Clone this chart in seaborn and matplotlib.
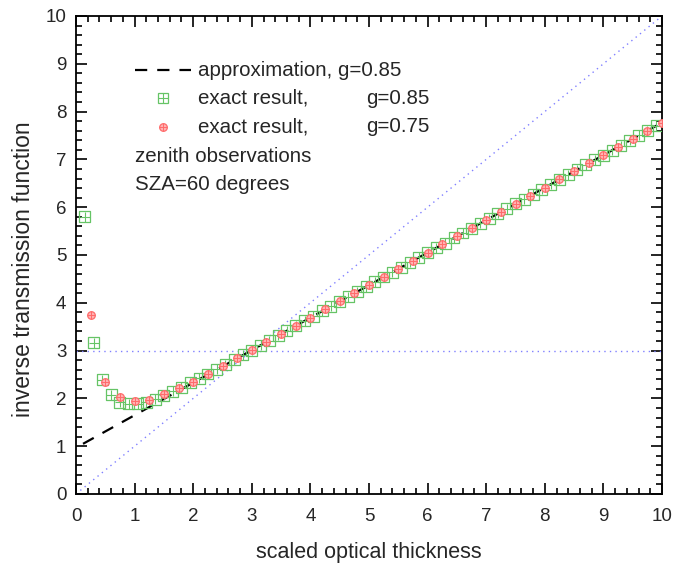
import matplotlib
matplotlib.use("Agg")
import matplotlib.pyplot as plt
import seaborn as sns
import numpy as np
import pandas as pd
from matplotlib.lines import Line2D
from matplotlib.ticker import MultipleLocator

# exact inverse transmission, g = 0.85
tau_g85 = [0.15, 0.30, 0.45, 0.60, 0.75, 0.90, 1.05, 1.20, 1.35, 1.50, 1.65, 1.80,
           1.95, 2.10, 2.25, 2.40, 2.55, 2.70, 2.85, 3.00, 3.15, 3.30, 3.45, 3.60,
           3.75, 3.90, 4.05, 4.20, 4.35, 4.50, 4.65, 4.80, 4.95, 5.10, 5.25, 5.40,
           5.55, 5.70, 5.85, 6.00, 6.15, 6.30, 6.45, 6.60, 6.75, 6.90, 7.05, 7.20,
           7.35, 7.50, 7.65, 7.80, 7.95, 8.10, 8.25, 8.40, 8.55, 8.70, 8.85, 9.00,
           9.15, 9.30, 9.45, 9.60, 9.75, 9.90]
inv_g85 = [5.80, 3.16, 2.39, 2.08, 1.92, 1.89, 1.89, 1.92, 1.98, 2.07, 2.15, 2.23,
           2.33, 2.42, 2.51, 2.61, 2.70, 2.81, 2.91, 3.01, 3.11, 3.21, 3.32, 3.42,
           3.52, 3.62, 3.72, 3.83, 3.93, 4.03, 4.13, 4.23, 4.34, 4.44, 4.54, 4.64,
           4.74, 4.85, 4.95, 5.05, 5.15, 5.25, 5.36, 5.46, 5.56, 5.66, 5.76, 5.87,
           5.97, 6.07, 6.17, 6.27, 6.38, 6.48, 6.58, 6.68, 6.78, 6.89, 6.99, 7.09,
           7.19, 7.29, 7.40, 7.50, 7.60, 7.70]

# exact inverse transmission, g = 0.75
tau_g75 = [0.25, 0.50, 0.75, 1.00, 1.25, 1.50, 1.75, 2.00, 2.25, 2.50, 2.75, 3.00,
           3.25, 3.50, 3.75, 4.00, 4.25, 4.50, 4.75, 5.00, 5.25, 5.50, 5.75, 6.00,
           6.25, 6.50, 6.75, 7.00, 7.25, 7.50, 7.75, 8.00, 8.25, 8.50, 8.75, 9.00,
           9.25, 9.50, 9.75, 10.00]
inv_g75 = [3.74, 2.35, 2.02, 1.95, 1.97, 2.09, 2.21, 2.35, 2.51, 2.67, 2.84, 3.01,
           3.18, 3.35, 3.52, 3.69, 3.86, 4.03, 4.20, 4.37, 4.54, 4.71, 4.88, 5.05,
           5.22, 5.39, 5.56, 5.73, 5.90, 6.07, 6.24, 6.41, 6.58, 6.75, 6.92, 7.09,
           7.26, 7.43, 7.60, 7.77]

# asymptotic approximation, g = 0.85
tau_approx = [0.12, 10.0]
inv_approx = [1.05, 7.77]

# reference guides
diag_x = [0.0, 10.0]
diag_y = [0.0, 10.0]
hline_y = 3.0

sns.set_theme(style="white")
plt.rcParams['font.family'] = ['Liberation Sans', 'DejaVu Sans']

fig = plt.figure(figsize=(6.89, 5.67), dpi=100)
ax = fig.add_axes([76/689, 1 - 494/567, 586/689, 478/567])

green = "#66c466"
red = "#ff6b6b"
guide = "#8080ff"

df85 = pd.DataFrame({"tau": tau_g85, "inv": inv_g85})
df75 = pd.DataFrame({"tau": tau_g75, "inv": inv_g75})
dfa = pd.DataFrame({"tau": tau_approx, "inv": inv_approx})
dfd = pd.DataFrame({"tau": diag_x, "inv": diag_y})

sns.lineplot(data=dfd, x="tau", y="inv", ax=ax, color=guide, lw=1.0,
             linestyle=(0, (1, 3)), zorder=1)
ax.axhline(hline_y, color=guide, lw=1.0, linestyle=(0, (1, 3)), zorder=1)
sns.lineplot(data=dfa, x="tau", y="inv", ax=ax, color="black", lw=1.6,
             linestyle=(0, (5.5, 4.5)), zorder=2)

# green squares with inner cross
sns.scatterplot(data=df85, x="tau", y="inv", ax=ax, marker="s", s=62,
                facecolor="none", edgecolor=green, linewidth=0.9, zorder=3)
sns.scatterplot(data=df85, x="tau", y="inv", ax=ax, marker="+", s=62,
                color=green, linewidth=0.8, zorder=3)
# red circles with inner cross
sns.scatterplot(data=df75, x="tau", y="inv", ax=ax, marker="o", s=30,
                facecolor="#ffb3b3", edgecolor=red, linewidth=0.9, zorder=4)
sns.scatterplot(data=df75, x="tau", y="inv", ax=ax, marker="+", s=30,
                color=red, linewidth=0.7, zorder=4)

ax.set_xlim(0, 10)
ax.set_ylim(0, 10)
ax.xaxis.set_major_locator(MultipleLocator(1))
ax.yaxis.set_major_locator(MultipleLocator(1))
ax.xaxis.set_minor_locator(MultipleLocator(0.2))
ax.yaxis.set_minor_locator(MultipleLocator(0.2))
ax.tick_params(which="both", direction="in", top=True, right=True,
               bottom=True, left=True, color="black", width=1.2)
ax.tick_params(which="major", length=8, labelsize=13.5, pad=7)
ax.tick_params(which="minor", length=4)
ax.tick_params(axis="x", which="major", pad=10)
for s in ax.spines.values():
    s.set_color("black")
    s.set_linewidth(1.3)

ax.set_xlabel("scaled optical thickness", fontsize=15.5, labelpad=12)
ax.set_ylabel("inverse transmission function", fontsize=16.5)
ax.yaxis.set_label_coords(-0.07, 0.471)

# key
tr = ax.transAxes
def ax_x(px):
    return (px - 76) / 586
def ax_y(py):
    return (494 - py) / 478

ax.add_line(Line2D([ax_x(135), ax_x(191)], [ax_y(70), ax_y(70)], transform=tr,
                   color="black", lw=1.6, linestyle=(0, (5.5, 4.5))))
ax.add_line(Line2D([ax_x(163)], [ax_y(98)], transform=tr, marker="s", ms=7.8,
                   mfc="none", mec=green, mew=0.9, ls="none"))
ax.add_line(Line2D([ax_x(163)], [ax_y(98)], transform=tr, marker="+", ms=7.8,
                   color=green, mew=0.8, ls="none"))
ax.add_line(Line2D([ax_x(163)], [ax_y(127)], transform=tr, marker="o", ms=5.5,
                   mfc="#ffb3b3", mec=red, mew=0.9, ls="none"))
ax.add_line(Line2D([ax_x(163)], [ax_y(127)], transform=tr, marker="+", ms=5.5,
                   color=red, mew=0.7, ls="none"))

fs = 14.8
ax.text(ax_x(198), ax_y(70), "approximation, g=0.85", transform=tr, fontsize=fs, va="center")
ax.text(ax_x(198), ax_y(98), "exact result,", transform=tr, fontsize=fs, va="center")
ax.text(ax_x(366), ax_y(98), "g=0.85", transform=tr, fontsize=fs, va="center")
ax.text(ax_x(198), ax_y(127), "exact result,", transform=tr, fontsize=fs, va="center")
ax.text(ax_x(366), ax_y(127), "g=0.75", transform=tr, fontsize=fs, va="center")
ax.text(ax_x(135), ax_y(156), "zenith observations", transform=tr, fontsize=fs, va="center")
ax.text(ax_x(135), ax_y(184), "SZA=60 degrees", transform=tr, fontsize=fs, va="center")

fig.savefig("out.png", dpi=100)
